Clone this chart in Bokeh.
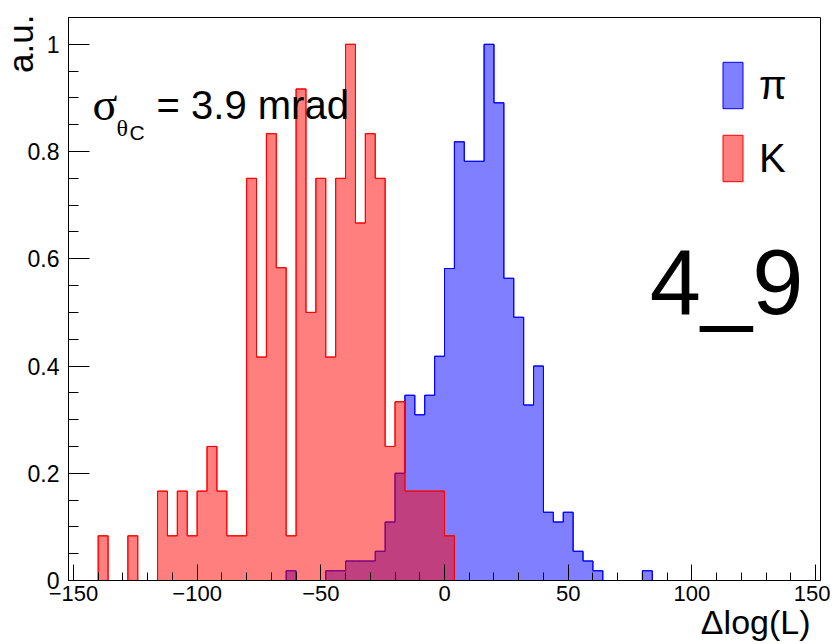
import math
from bokeh.plotting import figure
from bokeh.models import Range1d, Label, Legend, LegendItem, FixedTicker, Title
from bokeh.embed import file_html
from bokeh.resources import INLINE

BIN_WIDTH = 4

# Kaon histogram (bin left edges, counts)
k_left = [-140, -136, -132, -128, -124, -120, -116, -112, -108, -104, -100, -96,
          -92, -88, -84, -80, -76, -72, -68, -64, -60, -56, -52, -48,
          -44, -40, -36, -32, -28, -24, -20, -16, -12, -8, -4, 0]
k_counts = [1, 0, 0, 1, 0, 0, 2, 1, 2, 1, 2, 3,
            2, 1, 1, 9, 5, 10, 7, 1, 11, 6, 9, 5,
            9, 12, 8, 10, 9, 3, 4, 2, 2, 2, 2, 1]

# Pion histogram (bin left edges, counts)
pi_left = [-64, -60, -56, -52, -48, -44, -40, -36, -32, -28, -24, -20,
           -16, -12, -8, -4, 0, 4, 8, 12, 16, 20, 24, 28,
           32, 36, 40, 44, 48, 52, 56, 60, 64, 68, 72, 76, 80]
pi_counts = [1, 0, 0, 0, 1, 1, 2, 2, 2, 3, 6, 11,
             19, 17, 19, 23, 32, 45, 43, 43, 55, 49, 31, 27,
             18, 22, 7, 6, 7, 3, 2, 1, 0, 0, 0, 0, 1]

x_ticks = [-150, -100, -50, 0, 50, 100, 150]
x_minor = [-150, -140, -130, -120, -110, -100, -90, -80, -70, -60, -50, -40, -30, -20, -10,
           0, 10, 20, 30, 40, 50, 60, 70, 80, 90, 100, 110, 120, 130, 140, 150]
x_tick_labels = ["\u2212150", "\u2212100", "\u221250", "0", "50", "100", "150"]
y_ticks = [0, 0.2, 0.4, 0.6, 0.8, 1.0]
y_minor = [0, 0.05, 0.1, 0.15, 0.2, 0.25, 0.3, 0.35, 0.4, 0.45, 0.5, 0.55, 0.6,
           0.65, 0.7, 0.75, 0.8, 0.85, 0.9, 0.95, 1.0, 1.05]
y_tick_labels = ["0", "0.2", "0.4", "0.6", "0.8", "1"]


def outline(left, counts, width):
    norm = max(counts)
    xs = [left[0]]
    ys = [0.0]
    for l, c in zip(left, counts):
        xs += [l, l + width]
        ys += [c / norm, c / norm]
    xs.append(left[-1] + width)
    ys.append(0.0)
    return xs, ys


FONT = "Liberation Sans"
SERIF = "Liberation Serif"

p = figure(width=830, height=643, output_backend="svg", toolbar_location=None,
           x_range=Range1d(-152, 152), y_range=Range1d(0, 1.05),
           min_border_left=68, min_border_right=10, min_border_top=17, min_border_bottom=63)
p.frame_width = 752
p.frame_height = 563
p.xgrid.visible = False
p.ygrid.visible = False
p.outline_line_color = "black"
p.outline_line_width = 1
p.background_fill_color = "white"
p.border_fill_color = "white"

pxs, pys = outline(pi_left, pi_counts, BIN_WIDTH)
kxs, kys = outline(k_left, k_counts, BIN_WIDTH)

pi_patch = p.patch(pxs, pys, fill_color="blue", fill_alpha=0.5, line_color="blue", line_width=1)
p.line(pxs, pys, line_color="blue", line_width=1)
k_patch = p.patch(kxs, kys, fill_color="red", fill_alpha=0.5, line_color="red", line_width=1)
p.line(kxs, kys, line_color="red", line_width=1)

# Axes
p.xaxis.ticker = FixedTicker(ticks=x_ticks, minor_ticks=x_minor)
p.xaxis.major_label_overrides = {t: l for t, l in zip(x_ticks, x_tick_labels)}
p.yaxis.ticker = FixedTicker(ticks=y_ticks, minor_ticks=y_minor)
p.yaxis.major_label_overrides = {t: l for t, l in zip(y_ticks, y_tick_labels)}
for ax in (p.xaxis, p.yaxis):
    ax.axis_line_color = "black"
    ax.major_tick_line_color = "black"
    ax.minor_tick_line_color = "black"
    ax.major_tick_out = 0
    ax.minor_tick_out = 0
    ax.major_label_text_font = FONT
    ax.major_label_text_color = "black"
p.xaxis.major_label_text_font_size = "22px"
p.yaxis.major_label_text_font_size = "23px"
p.xaxis.major_tick_in = 16
p.xaxis.minor_tick_in = 8
p.yaxis.major_tick_in = 21
p.yaxis.minor_tick_in = 10
p.xaxis.major_label_standoff = 5
p.yaxis.major_label_standoff = 9

# Legend
legend = Legend(items=[LegendItem(label="\u03c0", renderers=[pi_patch]),
                       LegendItem(label="K", renderers=[k_patch])],
                location=(652, 393), border_line_color=None, background_fill_alpha=0,
                glyph_width=25, glyph_height=58, spacing=15, padding=0, margin=0,
                label_standoff=14, label_text_font_size="40px", label_text_font=FONT,
                label_text_color="black", label_height=58)
p.add_layout(legend, "center")


def make_title(text, size, standoff, **kw):
    try:
        return Title(text=text, text_font=FONT, text_font_size=size, text_color="black",
                     text_font_style="normal", standoff=standoff, **kw)
    except ValueError:
        return Title(text=text, text_font=FONT, text_font_size=size, text_color="black",
                     text_font_style="normal", standoff=0, **kw)


# Axis titles (side panels, so that they are not clipped to the frame)
p.add_layout(make_title("a.u.", "35px", -34, align="right", vertical_align="top", offset=-3), "left")
p.add_layout(make_title("\u0394log(L)", "34px", -6, align="right", vertical_align="bottom",
                        offset=10), "below")

# Texts inside the frame (anchored at their vertical middle)
p.add_layout(Label(x=-142.3, y=0.8883, text="\u03c3", text_font=SERIF, text_color="black",
                   text_font_size="46px", text_baseline="middle"))
p.add_layout(Label(x=-132.6, y=0.8443, text="\u03b8", text_font=SERIF, text_color="black",
                   text_font_size="24px", text_baseline="middle"))
p.add_layout(Label(x=-127.3, y=0.8348, text="C", text_font=FONT, text_color="black",
                   text_font_size="21px", text_baseline="middle"))
p.add_layout(Label(x=-116.4, y=0.8866, text="= 3.9 mrad", text_font=FONT, text_color="black",
                   text_font_size="40px", text_baseline="middle"))
p.add_layout(Label(x=83.0, y=0.556, text="4_9", text_font=FONT, text_color="black",
                   text_font_size="92px", text_baseline="middle"))

open("out.html", "w").write(file_html(p, INLINE))
